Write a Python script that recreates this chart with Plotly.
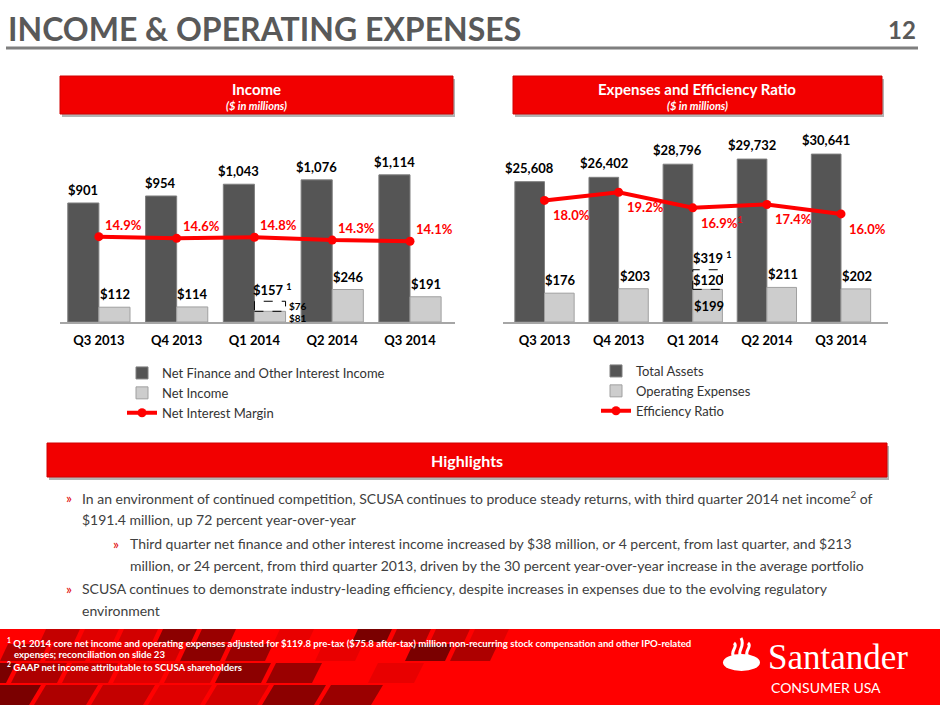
import plotly.graph_objects as go

# ---- data ----
quarters = ['Q3 2013', 'Q4 2013', 'Q1 2014', 'Q2 2014', 'Q3 2014']

net_finance_income = [901, 954, 1043, 1076, 1114]
net_income = [112, 114, 81, 246, 191]
net_interest_margin = [14.9, 14.6, 14.8, 14.3, 14.1]
core_net_income_q1 = 157
ni_adjustment_q1 = 76

total_assets = [25608, 26402, 28796, 29732, 30641]
operating_expenses = [176, 203, 199, 211, 202]
efficiency_ratio = [18.0, 19.2, 16.9, 17.4, 16.0]
gaap_opex_q1 = 319
opex_adjustment_q1 = 120

highlights = [
    (0, 'In an environment of continued competition, SCUSA continues to produce steady returns, with third quarter 2014 net income<sup>2</sup> of',
     '$191.4 million, up 72 percent year-over-year'),
    (1, 'Third quarter net finance and other interest income increased by $38 million, or 4 percent, from last quarter, and $213',
     'million, or 24 percent, from third quarter 2013, driven by the 30 percent year-over-year increase in the average portfolio'),
    (0, 'SCUSA continues to demonstrate industry-leading efficiency, despite increases in expenses due to the evolving regulatory',
     'environment'),
]

footnotes = [
    '<sup>1</sup> Q1 2014 core net income and operating expenses adjusted for $119.8 pre-tax ($75.8 after-tax) million non-recurring stock compensation and other IPO-related',
    '   expenses; reconciliation on slide 23',
    '<sup>2</sup> GAAP net income attributable to SCUSA shareholders',
]

W, H = 940, 705
FONT = 'Lato'
RED = '#ff0000'
DARK = '#555555'
LIGHT = '#cdcdcd'


def px(x):
    return x / W


def py(y):
    return 1 - y / H


def money(v):
    return '${:,}'.format(v)


def note(x, y, text, font, xanchor='center', **kw):
    # text placed in slide pixels
    return dict(x=px(x), y=py(y), xref='paper', yref='paper', xanchor=xanchor, yanchor='middle',
                showarrow=False, text=text, font=font, **kw)


fig = go.Figure()

# income chart
fig.add_trace(go.Bar(x=quarters, y=net_finance_income, xaxis='x', yaxis='y',
                     offset=-0.4, width=0.4, name='Net Finance and Other Interest Income',
                     marker=dict(color=DARK, line=dict(color='#7f7f7f', width=1)),
                     legend='legend'))
fig.add_trace(go.Bar(x=quarters, y=net_income, xaxis='x', yaxis='y',
                     offset=0, width=0.4, name='Net Income',
                     marker=dict(color=LIGHT, line=dict(color='#a0a0a0', width=1)),
                     legend='legend'))
fig.add_trace(go.Scatter(x=quarters, y=net_interest_margin, xaxis='x', yaxis='y2',
                         mode='lines+markers', name='Net Interest Margin',
                         line=dict(color=RED, width=4), marker=dict(color=RED, size=9),
                         legend='legend'))

# expenses chart
fig.add_trace(go.Bar(x=quarters, y=total_assets, xaxis='x2', yaxis='y3',
                     offset=-0.4, width=0.4, name='Total Assets',
                     marker=dict(color=DARK, line=dict(color='#7f7f7f', width=1)),
                     legend='legend2'))
fig.add_trace(go.Bar(x=quarters, y=operating_expenses, xaxis='x2', yaxis='y4',
                     offset=0, width=0.4, name='Operating Expenses',
                     marker=dict(color=LIGHT, line=dict(color='#a0a0a0', width=1)),
                     legend='legend2'))
fig.add_trace(go.Scatter(x=quarters, y=efficiency_ratio, xaxis='x2', yaxis='y5',
                         mode='lines+markers', name='Efficiency Ratio',
                         line=dict(color=RED, width=4), marker=dict(color=RED, size=9),
                         legend='legend2'))

ann = []
shapes = []

bold13 = dict(family=FONT, size=13, color='black')
red13 = dict(family=FONT, size=13, color=RED)
small10 = dict(family=FONT, size=10, color='black')


def data_note(x, y, xref, yref, text, font, xanchor='center', **kw):
    return dict(x=x, y=y, xref=xref, yref=yref, text=text, font=font, showarrow=False,
                xanchor=xanchor, yanchor='middle', **kw)


for i, q in enumerate(quarters):
    ann.append(data_note(q, net_finance_income[i], 'x', 'y', '<b>' + money(net_finance_income[i]) + '</b>',
                         bold13, xshift=-16, yshift=13))
    ann.append(data_note(q, total_assets[i], 'x2', 'y3', '<b>' + money(total_assets[i]) + '</b>',
                         bold13, xshift=-15, yshift=14))
    pct = '<b>{:.1f}%</b>'.format(net_interest_margin[i])
    ann.append(data_note(q, net_interest_margin[i], 'x', 'y2', pct, red13, xanchor='left', xshift=4, yshift=12))
    pct = '<b>{:.1f}%</b>'.format(efficiency_ratio[i])
    if q == 'Q1 2014':
        pct += '<sup>1</sup>'
    ann.append(data_note(q, efficiency_ratio[i], 'x2', 'y5', pct, red13, xanchor='left', xshift=6, yshift=-15))
    if q != 'Q1 2014':
        ann.append(data_note(q, net_income[i], 'x', 'y', '<b>' + money(net_income[i]) + '</b>',
                             bold13, xshift=16, yshift=13))
        ann.append(data_note(q, operating_expenses[i], 'x2', 'y4', '<b>' + money(operating_expenses[i]) + '</b>',
                             bold13, xshift=16, yshift=13))

# Q1 2014 adjustments (dashed boxes)
k = quarters.index('Q1 2014')
shapes.append(dict(type='rect', xref='x', yref='y', x0=k + 0.0, x1=k + 0.4,
                   y0=net_income[k], y1=core_net_income_q1,
                   line=dict(color='black', width=1, dash='dash')))
ann.append(data_note(quarters[k], core_net_income_q1, 'x', 'y',
                     '<b>' + money(core_net_income_q1) + ' <sup>1</sup></b>', bold13, xshift=18, yshift=12))
ann.append(data_note(k + 0.4, net_income[k] + ni_adjustment_q1 / 2, 'x', 'y',
                     '<b>' + money(ni_adjustment_q1) + '</b>', small10, xanchor='left', xshift=1))
ann.append(data_note(k + 0.4, net_income[k] * 0.4, 'x', 'y',
                     '<b>' + money(net_income[k]) + '</b>', small10, xanchor='left', xshift=1))

shapes.append(dict(type='rect', xref='x2', yref='y4', x0=k + 0.0, x1=k + 0.4,
                   y0=operating_expenses[k], y1=gaap_opex_q1,
                   line=dict(color='black', width=1, dash='dash')))
ann.append(data_note(quarters[k], gaap_opex_q1, 'x2', 'y4',
                     '<b>' + money(gaap_opex_q1) + ' <sup>1</sup></b>', bold13, xshift=20, yshift=12))
ann.append(data_note(quarters[k], operating_expenses[k] + opex_adjustment_q1 / 2, 'x2', 'y4',
                     '<b>' + money(opex_adjustment_q1) + '</b>', bold13, xshift=16))
ann.append(data_note(quarters[k], operating_expenses[k] / 2, 'x2', 'y4',
                     '<b>' + money(operating_expenses[k]) + '</b>', bold13, xshift=16))

# ---- slide decoration ----
ann.append(note(6, 29, '<b>INCOME &amp; OPERATING EXPENSES</b>',
                dict(family=FONT, size=32, color='#595959'), xanchor='left'))
ann.append(note(918, 30, '<b>12</b>', dict(family=FONT, size=24, color='#595959'), xanchor='right'))
shapes.append(dict(type='line', xref='paper', yref='paper', x0=px(6), x1=px(918), y0=py(48), y1=py(48),
                   line=dict(color='#7f7f7f', width=3)))


def red_box(x0, x1, y0, y1):
    shapes.append(dict(type='rect', xref='paper', yref='paper', x0=px(x0 + 2), x1=px(x1 + 2),
                       y0=py(y1 + 3), y1=py(y0 + 3), line=dict(width=0), fillcolor='#b3b3b3'))
    shapes.append(dict(type='rect', xref='paper', yref='paper', x0=px(x0), x1=px(x1),
                       y0=py(y1), y1=py(y0), line=dict(color='#d00000', width=1), fillcolor='#f20000'))


red_box(60, 453, 76, 114)
red_box(513, 882, 76, 114)
red_box(47, 887, 443, 477)
for cx, title in [(256, 'Income'), (697, 'Expenses and Efficiency Ratio')]:
    ann.append(note(cx, 89, '<b>' + title + '</b>', dict(family=FONT, size=15, color='white')))
    ann.append(note(cx, 105, '<b><i>($ in millions)</i></b>', dict(family=FONT, size=11, color='white')))
ann.append(note(467, 460, '<b>Highlights</b>', dict(family=FONT, size=16, color='white')))

# bullets
ys = [497, 543, 588]
for (level, l1, l2), y in zip(highlights, ys):
    bx = 64 + 47 * level
    tx = 80 + 48 * level
    ann.append(note(bx, y, '»', dict(family=FONT, size=14, color='#e00000'), xanchor='left'))
    for j, line in enumerate([l1, l2]):
        ann.append(note(tx, y + 22 * j, line, dict(family=FONT, size=14, color='#404040'), xanchor='left'))

# footer band with tiles
shapes.append(dict(type='rect', xref='paper', yref='paper', x0=0, x1=1, y0=0, y1=py(629),
                   line=dict(width=0), fillcolor='#ff0000', layer='below'))
rows = [(629, 642, 40, 480), (644, 661, 30, 460), (663, 683, 20, 440), (685, 705, 10, 420)]
shades = ['#c40000', '#ff0000', '#9a0000', '#e00000', '#7a0000', '#ff0000', '#d20000', '#ad0000', '#e80000', '#8c0000']
for r, (ya, yb, start, stop) in enumerate(rows):
    wdt = 34 + 6 * r
    slant = 6 + 2 * r
    c = 0
    x = start - 30 * r
    while x < stop:
        col = shades[(c * 3 + r * 7) % len(shades)]
        path = 'M {} {} L {} {} L {} {} L {} {} Z'.format(
            px(x), py(yb), px(x + wdt), py(yb), px(x + wdt + slant), py(ya), px(x + slant), py(ya))
        shapes.append(dict(type='path', xref='paper', yref='paper', path=path,
                           fillcolor=col, line=dict(width=0), layer='below'))
        x += wdt + 5
        c += 1

for line, y in zip(footnotes, [642, 654, 666]):
    ann.append(note(5, y, '<b>' + line + '</b>', dict(family=FONT, size=9.6, color='white'), xanchor='left'))

# Santander logo
shapes.append(dict(type='circle', xref='paper', yref='paper', x0=px(723), x1=px(760), y0=py(671), y1=py(654),
                   fillcolor='white', line=dict(width=0)))
for dx, top in [(-7, 643), (0, 638), (7, 643)]:
    path = 'M {} {} C {} {}, {} {}, {} {}'.format(
        px(741 + dx), py(657), px(736 + dx), py(651), px(746 + dx), py(647), px(741 + dx), py(top))
    shapes.append(dict(type='path', xref='paper', yref='paper', path=path,
                       line=dict(color='white', width=3)))
ann.append(note(766, 657, 'Santander', dict(family='Liberation Serif', size=35, color='white'), xanchor='left'))
ann.append(note(769, 687, 'CONSUMER USA', dict(family=FONT, size=14, color='white'), xanchor='left'))

ydom = [py(322), py(145)]
xaxis_style = dict(type='category', showline=True, linecolor='#a6a6a6', linewidth=1.5, ticks='',
                   showgrid=False, zeroline=False, ticklabelstandoff=6,
                   tickfont=dict(family=FONT, size=13, color='black', weight='bold'))
legend_style = dict(xanchor='left', yanchor='top', bgcolor='rgba(0,0,0,0)', tracegroupgap=0,
                    font=dict(family=FONT, size=13, color='#333333'), traceorder='normal', itemwidth=30)

fig.update_layout(
    width=W, height=H, margin=dict(l=0, r=0, t=0, b=0),
    paper_bgcolor='white', plot_bgcolor='white', barmode='overlay',
    xaxis=dict(domain=[px(60), px(455)], anchor='y', **xaxis_style),
    yaxis=dict(domain=ydom, range=[0, 1340], visible=False),
    yaxis2=dict(overlaying='y', anchor='x', range=[0, 30.9], visible=False),
    xaxis2=dict(domain=[px(503), px(888)], anchor='y3', **xaxis_style),
    yaxis3=dict(domain=ydom, anchor='x2', range=[0, 32300], visible=False),
    yaxis4=dict(overlaying='y3', anchor='x2', range=[0, 1080], visible=False),
    yaxis5=dict(overlaying='y3', anchor='x2', range=[0, 26.2], visible=False),
    legend=dict(x=px(122), y=py(358), **legend_style),
    legend2=dict(x=px(596), y=py(356), **legend_style),
    annotations=ann, shapes=shapes,
)

fig.write_html('out.html', config={'displayModeBar': False},
               post_script="document.body.style.margin='0px';document.body.style.overflow='hidden';")
